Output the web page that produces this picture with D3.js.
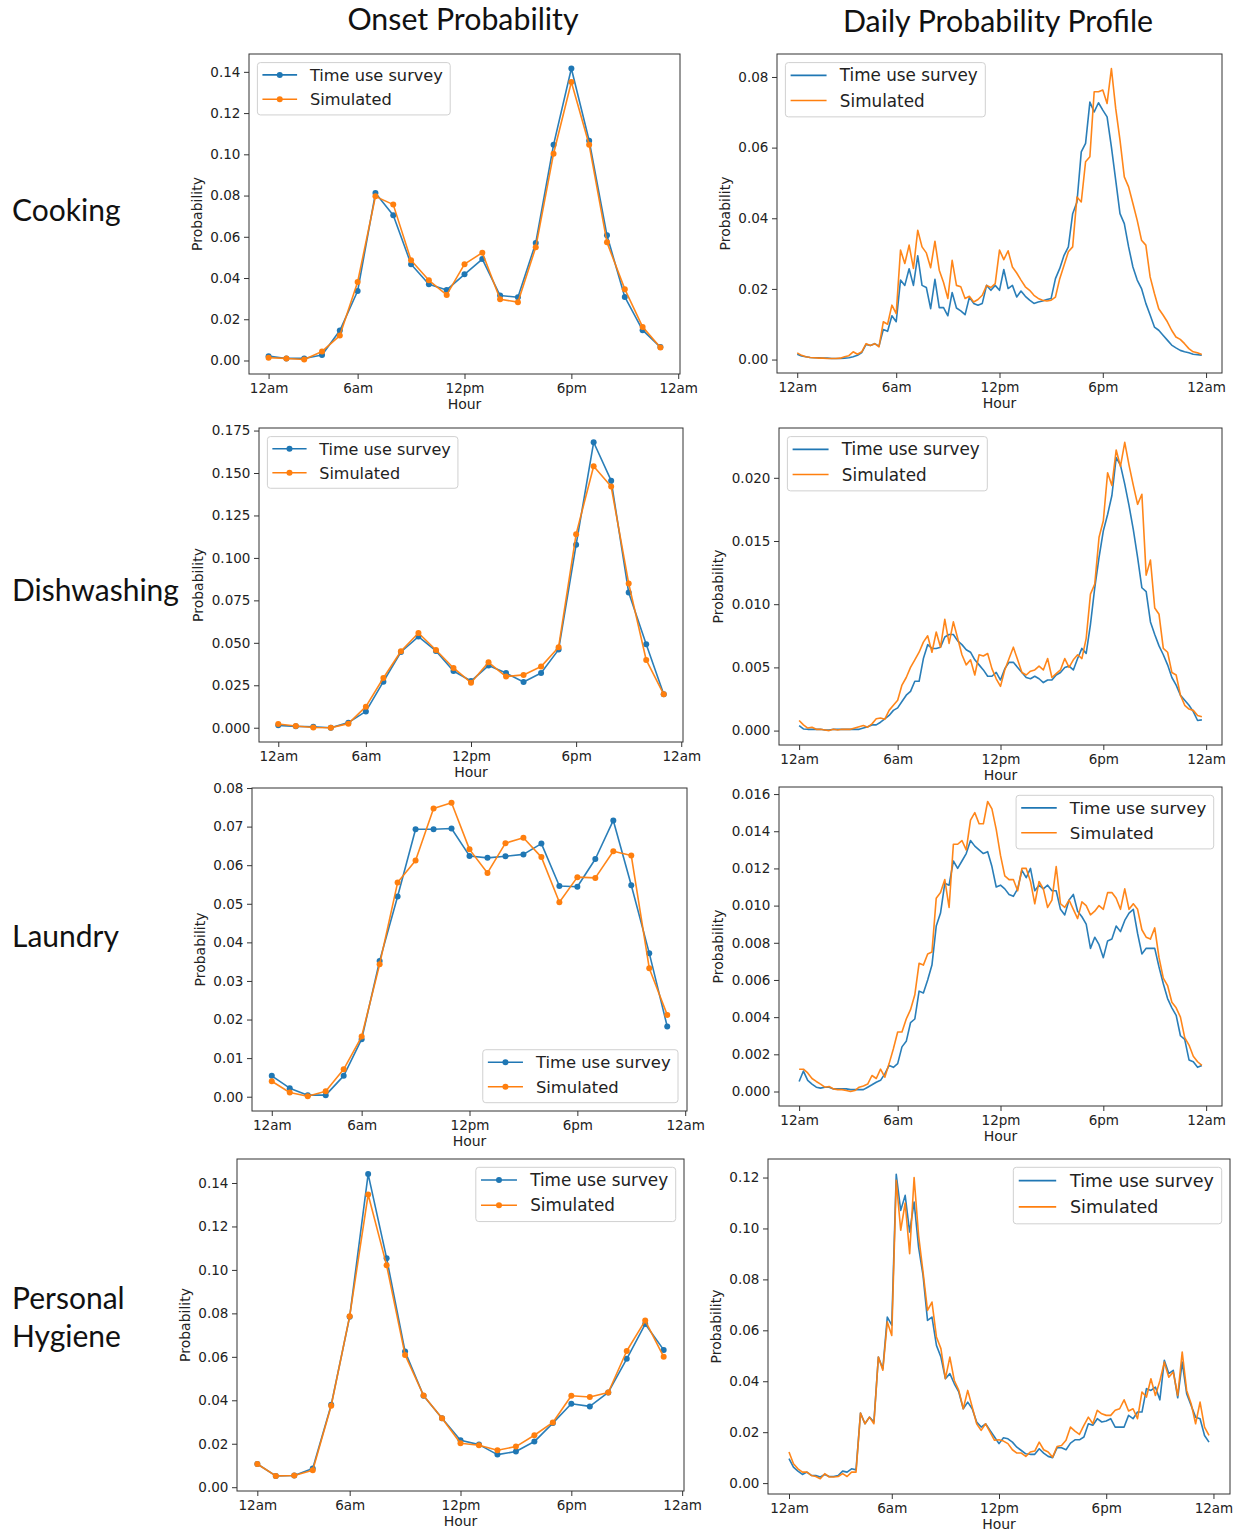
<!DOCTYPE html>
<html><head><meta charset="utf-8">
<script src="https://cdn.jsdelivr.net/npm/d3@7/dist/d3.min.js"></script>
<style>
body{margin:0;background:#fff;}
svg text{font-family:"DejaVu Sans",sans-serif;fill:#222;}
.big{font-family:"Lato","Open Sans",sans-serif !important;}
</style></head><body>
<svg id="chart" width="1247" height="1534"></svg>
<script>
// ---------------- DATA ----------------
const columnTitles = ["Onset Probability", "Daily Probability Profile"];
const rowLabels = [["Cooking"], ["Dishwashing"], ["Laundry"], ["Personal", "Hygiene"]];
const seriesNames = ["Time use survey", "Simulated"];
const xTickLabels = ["12am", "6am", "12pm", "6pm", "12am"];
const onsetTickPos = [0, 5, 11, 17, 23];
const profileTickPos = [0, 23, 47, 71, 95];
const xLabel = "Hour";
const yLabel = "Probability";

// Onset probability (hourly)
const cookingOnsetSurvey = [0.0021,0.001,0.001,0.0027,0.0145,0.0337,0.0812,0.0704,0.0467,0.037,0.0342,0.0418,0.0492,0.0315,0.0307,0.057,0.1046,0.1416,0.1066,0.0607,0.0308,0.0147,0.0065];
const cookingOnsetSim    = [0.0013,0.001,0.0005,0.0044,0.0121,0.0381,0.0796,0.0756,0.0486,0.0389,0.0318,0.0467,0.0523,0.0297,0.0283,0.0549,0.1003,0.1351,0.1046,0.0573,0.0346,0.0163,0.0063];
const dishOnsetSurvey    = [0.0014,0.0008,0.0006,0.0,0.003,0.0096,0.0271,0.0446,0.0537,0.0452,0.0334,0.0275,0.0366,0.0322,0.0269,0.0322,0.046,0.1078,0.1681,0.1455,0.0796,0.0492,0.0197];
const dishOnsetSim       = [0.0022,0.001,0.0001,0.0,0.0024,0.0124,0.0293,0.045,0.0558,0.0458,0.0352,0.0265,0.0385,0.0301,0.0311,0.036,0.0474,0.114,0.154,0.142,0.085,0.0399,0.0197];
const laundryOnsetSurvey = [0.0054,0.0022,0.0004,0.0004,0.0054,0.0149,0.0352,0.0519,0.0693,0.0693,0.0695,0.0624,0.0619,0.0623,0.0628,0.0656,0.0546,0.0544,0.0616,0.0716,0.0548,0.0372,0.0182];
const laundryOnsetSim    = [0.004,0.0011,0.0001,0.0014,0.0071,0.0156,0.0343,0.0555,0.0612,0.0747,0.0762,0.0641,0.058,0.0657,0.0671,0.0621,0.0504,0.0569,0.0567,0.0636,0.0625,0.0333,0.0212];
const hygieneOnsetSurvey = [0.0107,0.0052,0.0054,0.0086,0.0379,0.0785,0.1441,0.1054,0.0624,0.0421,0.0317,0.0216,0.0196,0.015,0.0164,0.021,0.0295,0.0384,0.0372,0.0436,0.0591,0.0751,0.0632];
const hygieneOnsetSim    = [0.0107,0.0052,0.0054,0.0078,0.0375,0.0787,0.1347,0.1021,0.0609,0.0422,0.0317,0.0202,0.0193,0.017,0.0187,0.0239,0.0298,0.0421,0.0415,0.0436,0.0627,0.0767,0.06];

// Daily probability profile (15-minute)
const cookingProfileSurvey = [0.0015,0.001,0.0008,0.0006,0.0005,0.0005,0.0004,0.0004,0.0003,0.0003,0.0003,0.0004,0.0005,0.0008,0.0012,0.002,0.0043,0.004,0.0045,0.0038,0.0085,0.008,0.0124,0.0107,0.0225,0.021,0.0257,0.021,0.0294,0.021,0.0204,0.0144,0.0227,0.0147,0.0147,0.0124,0.019,0.0146,0.0138,0.0127,0.0176,0.0159,0.0154,0.0159,0.021,0.0196,0.021,0.0196,0.0255,0.0201,0.021,0.0177,0.0194,0.0179,0.0168,0.0159,0.0163,0.0166,0.017,0.0173,0.0229,0.0258,0.0295,0.0319,0.0413,0.0446,0.0588,0.0612,0.0729,0.0701,0.0727,0.0706,0.0687,0.0602,0.0508,0.0413,0.0385,0.0319,0.0262,0.0225,0.0201,0.0159,0.0126,0.0092,0.0083,0.0069,0.0055,0.0041,0.0033,0.0026,0.0022,0.0019,0.0015,0.0014,0.0012];
const cookingProfileSim    = [0.0019,0.0012,0.0008,0.0006,0.0005,0.0004,0.0004,0.0003,0.0003,0.0003,0.0004,0.0008,0.0011,0.0022,0.0015,0.0022,0.0045,0.004,0.0045,0.0036,0.0107,0.01,0.0154,0.013,0.031,0.0272,0.0324,0.0258,0.0366,0.0319,0.0302,0.026,0.0335,0.0253,0.0218,0.0173,0.0281,0.021,0.0206,0.0173,0.0179,0.0163,0.017,0.0182,0.021,0.0204,0.0215,0.031,0.0283,0.0308,0.0262,0.0245,0.0225,0.0206,0.0196,0.0182,0.0173,0.0168,0.0166,0.0168,0.0177,0.0229,0.0267,0.0305,0.0319,0.046,0.0446,0.056,0.0574,0.0758,0.0758,0.0763,0.0725,0.0824,0.0711,0.0621,0.0517,0.0489,0.0442,0.0394,0.0338,0.0324,0.0234,0.0187,0.0144,0.0126,0.0107,0.0083,0.0064,0.0057,0.0045,0.0031,0.0022,0.0019,0.0014];
const dishProfileSurvey    = [0.0004,0.00013,0.0001,0.0001,0.0001,0.0001,0.00005,0.00005,0.0001,0.0001,0.0001,0.0001,0.0001,0.0001,0.0001,0.0002,0.0003,0.00045,0.00045,0.00066,0.00093,0.0012,0.0016,0.0018,0.0023,0.0028,0.0031,0.0039,0.0039,0.0057,0.0068,0.0065,0.0065,0.0066,0.0074,0.0076,0.0076,0.0071,0.0068,0.0064,0.0062,0.0056,0.0052,0.0048,0.0043,0.0043,0.0046,0.004,0.0049,0.0054,0.0054,0.005,0.0046,0.0042,0.0041,0.0043,0.0041,0.0038,0.004,0.004,0.0044,0.0046,0.005,0.0051,0.0048,0.0057,0.0065,0.0061,0.0084,0.0113,0.0137,0.0158,0.0171,0.0186,0.0216,0.021,0.0195,0.0178,0.0159,0.0137,0.0113,0.011,0.0086,0.0076,0.0067,0.006,0.0052,0.0042,0.0036,0.0028,0.0024,0.002,0.0015,0.0008,0.00085];
const dishProfileSim       = [0.0008,0.00045,0.0002,0.00027,0.0001,0.0001,0.00005,0.0,0.0001,0.00005,0.0001,0.0001,0.0001,0.0002,0.0003,0.0004,0.00027,0.00053,0.00093,0.001,0.0009,0.0016,0.002,0.0024,0.0036,0.0042,0.005,0.0056,0.0062,0.007,0.0075,0.0062,0.0078,0.0066,0.0088,0.0069,0.0086,0.0073,0.006,0.0052,0.0056,0.0044,0.006,0.0059,0.0061,0.0049,0.0041,0.0035,0.0048,0.0057,0.0066,0.0056,0.0046,0.0044,0.0047,0.0048,0.0051,0.0048,0.0057,0.0042,0.0045,0.0048,0.0057,0.005,0.0056,0.006,0.0057,0.0073,0.0108,0.0116,0.0153,0.0166,0.0204,0.0194,0.0222,0.0209,0.0228,0.021,0.0194,0.0179,0.0187,0.0123,0.0135,0.0097,0.0092,0.0065,0.0062,0.0046,0.0044,0.0028,0.002,0.0017,0.0016,0.0012,0.0011];
const laundryProfileSurvey = [0.00054,0.0011,0.0006,0.0004,0.00023,0.00018,0.00023,0.00023,0.00014,0.00014,0.00014,0.00014,0.0001,0.0001,0.0001,0.0001,0.00023,0.00036,0.0005,0.0006,0.00095,0.0014,0.0013,0.0015,0.0024,0.0027,0.0037,0.0039,0.0054,0.0053,0.006,0.0068,0.0089,0.0096,0.0112,0.0111,0.0124,0.012,0.0124,0.0128,0.0135,0.0132,0.013,0.0128,0.0129,0.0121,0.011,0.0111,0.0109,0.0106,0.0105,0.0109,0.0119,0.0115,0.012,0.0108,0.0111,0.0109,0.0111,0.0108,0.0108,0.0098,0.0095,0.0103,0.0106,0.0097,0.0094,0.009,0.0077,0.0083,0.0079,0.0072,0.0081,0.0082,0.0089,0.0086,0.0092,0.0096,0.0098,0.0085,0.0074,0.0077,0.0077,0.0077,0.0067,0.0058,0.005,0.0045,0.0041,0.003,0.0028,0.0017,0.0016,0.0013,0.0014];
const laundryProfileSim    = [0.0012,0.0012,0.001,0.0007,0.00054,0.0004,0.00023,0.00027,0.00014,0.0001,0.0001,0.00005,0.0,0.00005,0.00023,0.0003,0.0004,0.00086,0.0007,0.0012,0.00077,0.0015,0.0023,0.0032,0.0032,0.0039,0.0044,0.0052,0.0069,0.0068,0.0074,0.0075,0.0104,0.0107,0.0114,0.0099,0.0133,0.0133,0.0135,0.013,0.0146,0.015,0.0144,0.0144,0.0156,0.0152,0.0141,0.0127,0.0116,0.0114,0.0114,0.0108,0.012,0.012,0.0113,0.0101,0.0113,0.0109,0.0099,0.0103,0.0121,0.0101,0.0099,0.0103,0.0098,0.0093,0.0102,0.01,0.0095,0.0097,0.01,0.0098,0.0107,0.0107,0.0104,0.0098,0.0109,0.0098,0.0101,0.0098,0.0087,0.0083,0.0082,0.0088,0.0072,0.0061,0.0057,0.0048,0.0045,0.004,0.0029,0.0025,0.0019,0.0016,0.0014];
const hygieneProfileSurvey = [0.0096,0.0063,0.0047,0.0034,0.0043,0.003,0.003,0.0024,0.0034,0.0026,0.0026,0.003,0.0047,0.0043,0.0056,0.0052,0.0275,0.0233,0.0259,0.024,0.0495,0.0449,0.0652,0.062,0.1213,0.1071,0.113,0.0986,0.1104,0.0927,0.0816,0.0639,0.0652,0.0541,0.0495,0.041,0.043,0.039,0.0358,0.0292,0.0318,0.0292,0.024,0.022,0.0233,0.0207,0.0181,0.0155,0.0178,0.0174,0.0161,0.0141,0.0128,0.0115,0.0113,0.0113,0.0135,0.0118,0.0105,0.01,0.0139,0.0139,0.0131,0.0157,0.017,0.017,0.0181,0.0233,0.0227,0.0253,0.024,0.0244,0.0253,0.022,0.022,0.022,0.0266,0.0253,0.0279,0.0279,0.0371,0.0364,0.0377,0.0327,0.0482,0.043,0.0443,0.0335,0.0475,0.0351,0.0305,0.0259,0.0253,0.0187,0.0161];
const hygieneProfileSim    = [0.0122,0.0076,0.0056,0.0043,0.0043,0.003,0.0026,0.0017,0.0037,0.0024,0.0024,0.0026,0.0037,0.0026,0.0043,0.0043,0.0275,0.0233,0.0259,0.0233,0.0495,0.0443,0.0633,0.058,0.1189,0.0993,0.11,0.0901,0.12,0.0973,0.0829,0.0678,0.0711,0.0574,0.0528,0.041,0.0495,0.0403,0.0364,0.0292,0.0364,0.0299,0.0233,0.0207,0.0233,0.02,0.0168,0.017,0.0165,0.0155,0.0131,0.0118,0.0118,0.0105,0.0122,0.0126,0.0161,0.0131,0.0122,0.0102,0.0144,0.0148,0.0168,0.022,0.0204,0.0191,0.0227,0.0259,0.0233,0.0286,0.0272,0.0266,0.0266,0.0286,0.0292,0.0327,0.0283,0.0292,0.0253,0.0358,0.0338,0.041,0.0344,0.0401,0.0475,0.0416,0.0436,0.0344,0.0515,0.0364,0.0312,0.0233,0.0318,0.022,0.0187];

// y tick values
const cookingOnsetYTicks = [0, 0.02, 0.04, 0.06, 0.08, 0.10, 0.12, 0.14];
const dishOnsetYTicks = [0, 0.025, 0.05, 0.075, 0.1, 0.125, 0.15, 0.175];
const laundryOnsetYTicks = [0, 0.01, 0.02, 0.03, 0.04, 0.05, 0.06, 0.07, 0.08];
const hygieneOnsetYTicks = [0, 0.02, 0.04, 0.06, 0.08, 0.10, 0.12, 0.14];
const cookingProfileYTicks = [0, 0.02, 0.04, 0.06, 0.08];
const dishProfileYTicks = [0, 0.005, 0.01, 0.015, 0.02];
const laundryProfileYTicks = [0, 0.002, 0.004, 0.006, 0.008, 0.010, 0.012, 0.014, 0.016];
const hygieneProfileYTicks = [0, 0.02, 0.04, 0.06, 0.08, 0.10, 0.12];

// ---------------- STYLE / LAYOUT ----------------
const colors = ["#1f77b4", "#ff7f0e"];
const panels = [
  {s:[cookingOnsetSurvey, cookingOnsetSim], yt:cookingOnsetYTicks, fmt:".2f", xt:onsetTickPos, box:[249,54,680,374], leg:"ul", lf:16.2, mk:true},
  {s:[dishOnsetSurvey, dishOnsetSim], yt:dishOnsetYTicks, fmt:".3f", xt:onsetTickPos, box:[259,428,683,742], leg:"ul", lf:16, mk:true},
  {s:[laundryOnsetSurvey, laundryOnsetSim], yt:laundryOnsetYTicks, fmt:".2f", xt:onsetTickPos, box:[252,788,687,1111], leg:"lr", lf:16.4, mk:true},
  {s:[hygieneOnsetSurvey, hygieneOnsetSim], yt:hygieneOnsetYTicks, fmt:".2f", xt:onsetTickPos, box:[237,1159,684,1491], leg:"ur", lf:16.8, mk:true},
  {s:[cookingProfileSurvey, cookingProfileSim], yt:cookingProfileYTicks, fmt:".2f", xt:profileTickPos, box:[777,54,1222,373], leg:"ul", lf:16.8, mk:false},
  {s:[dishProfileSurvey, dishProfileSim], yt:dishProfileYTicks, fmt:".3f", xt:profileTickPos, box:[779,428,1222,745], leg:"ul", lf:16.8, mk:false},
  {s:[laundryProfileSurvey, laundryProfileSim], yt:laundryProfileYTicks, fmt:".3f", xt:profileTickPos, box:[779,787,1222,1106], leg:"ur", lf:16.6, mk:false},
  {s:[hygieneProfileSurvey, hygieneProfileSim], yt:hygieneProfileYTicks, fmt:".2f", xt:profileTickPos, box:[768,1159,1230,1494], leg:"ur", lf:17.5, mk:false}
];

const svg = d3.select("#chart");
svg.append("rect").attr("width",1247).attr("height",1534).attr("fill","#fff");

// column titles
svg.append("text").attr("class","big").attr("x",463).attr("y",30).attr("text-anchor","middle")
  .style("font-size","30.3px").style("fill","#111").text(columnTitles[0]);
svg.append("text").attr("class","big").attr("x",998).attr("y",32).attr("text-anchor","middle")
  .style("font-size","30.3px").style("fill","#111").text(columnTitles[1]);

// row labels
const rowBase = [221, 601, 947, 1309];
rowLabels.forEach((lines, i) => {
  const t = svg.append("text").attr("class","big").attr("x",12).attr("y",rowBase[i])
    .style("font-size","30px").style("fill","#111");
  lines.forEach((ln, j) => t.append("tspan").attr("x",12).attr("dy", j===0?0:37.5).text(ln));
});

panels.forEach(p => {
  const [L,T,R,B] = p.box;
  const n = p.s[0].length;
  const xr = n - 1;
  const x = d3.scaleLinear().domain([-0.05*xr, xr*1.05]).range([L,R]);
  const all = p.s[0].concat(p.s[1]);
  const mn = d3.min(all), mx = d3.max(all), rg = mx - mn;
  const y = d3.scaleLinear().domain([mn-0.05*rg, mx+0.05*rg]).range([B,T]);
  const g = svg.append("g");

  const clipId = "clip" + L + "_" + T;
  g.append("clipPath").attr("id",clipId).append("rect").attr("x",L).attr("y",T).attr("width",R-L).attr("height",B-T);

  const line = d3.line().x((d,i)=>x(i)).y(d=>y(d));
  const plot = g.append("g").attr("clip-path","url(#"+clipId+")");
  p.s.forEach((ser, k) => {
    plot.append("path").datum(ser).attr("d",line).attr("fill","none")
      .attr("stroke",colors[k]).attr("stroke-width",1.6).attr("stroke-linejoin","round").attr("opacity",0.95);
    if (p.mk) {
      plot.selectAll(null).data(ser).enter().append("circle")
        .attr("cx",(d,i)=>x(i)).attr("cy",d=>y(d)).attr("r",3).attr("fill",colors[k]);
    }
  });

  // spines
  g.append("rect").attr("x",L).attr("y",T).attr("width",R-L).attr("height",B-T)
    .attr("fill","none").attr("stroke","#333").attr("stroke-width",1);

  // axes
  const ya = g.append("g").attr("transform",`translate(${L},0)`)
    .call(d3.axisLeft(y).tickValues(p.yt).tickSize(5).tickPadding(3.6).tickFormat(d3.format(p.fmt)));
  const xa = g.append("g").attr("transform",`translate(0,${B})`)
    .call(d3.axisBottom(x).tickValues(p.xt).tickSize(5).tickPadding(4.4).tickFormat((d,i)=>xTickLabels[i]));
  [ya, xa].forEach(a => {
    a.select(".domain").remove();
    a.selectAll("line").attr("stroke","#333");
    a.selectAll("text").style("font-size","13.5px").style("font-family","DejaVu Sans").attr("fill","#222");
  });

  const bb = ya.node().getBBox();
  const lx = L + bb.x - 8.5;
  g.append("text").attr("transform",`translate(${lx},${(T+B)/2}) rotate(-90)`)
    .attr("text-anchor","middle").style("font-size","14px").text(yLabel);
  g.append("text").attr("x",(L+R)/2).attr("y",B+35).attr("text-anchor","middle")
    .style("font-size","14px").text(xLabel);

  // legend
  const f = p.lf;
  const lg = g.append("g");
  const tmp = lg.append("text").style("font-size",f+"px").text(seriesNames[0]);
  const tw = tmp.node().getComputedTextLength();
  tmp.remove();
  const w = 3.24*f + tw + 0.45*f, h = 3.23*f;
  let lx0, ly0;
  if (p.leg === "ul") { lx0 = L + 8.4; ly0 = T + 8.6; }
  else if (p.leg === "ur") { lx0 = R - 8.3 - w; ly0 = T + 8.3; }
  else { lx0 = R - 9 - w; ly0 = B - 8.3 - h; }
  lg.append("rect").attr("x",lx0).attr("y",ly0).attr("width",w).attr("height",h)
    .attr("rx",3).attr("fill","#fff").attr("fill-opacity",0.8).attr("stroke","#d0d0d0").attr("stroke-width",1);
  seriesNames.forEach((nm, k) => {
    const cy = ly0 + (k===0 ? 0.76 : 2.26)*f;
    lg.append("line").attr("x1",lx0+0.31*f).attr("x2",lx0+2.45*f).attr("y1",cy).attr("y2",cy)
      .attr("stroke",colors[k]).attr("stroke-width",1.6);
    if (p.mk) lg.append("circle").attr("cx",lx0+1.38*f).attr("cy",cy).attr("r",3).attr("fill",colors[k]);
    lg.append("text").attr("x",lx0+3.24*f).attr("y",cy).attr("dy","0.36em")
      .style("font-size",f+"px").text(nm);
  });
});
</script>
</body></html>
